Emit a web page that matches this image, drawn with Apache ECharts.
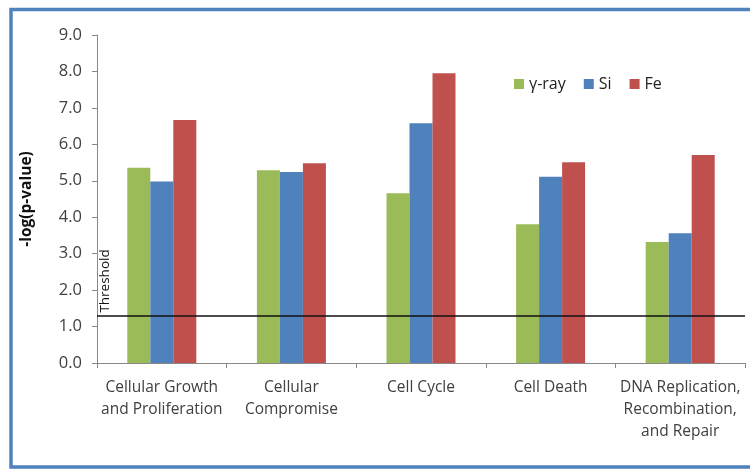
<!DOCTYPE html>
<html>
<head>
<meta charset="utf-8">
<script src="https://cdn.jsdelivr.net/npm/echarts@6/dist/echarts.min.js"></script>
<style>
  html, body { margin: 0; padding: 0; background: #fff; }
  #chart { width: 750px; height: 469px; }
</style>
</head>
<body>
<div id="chart"></div>
<script>
// data
const categories = ['Cellular Growth\nand Proliferation', 'Cellular\nCompromise', 'Cell Cycle', 'Cell Death', 'DNA Replication,\nRecombination,\nand Repair']
const gammaRay = [5.36, 5.29, 4.66, 3.81, 3.32]
const silicon = [4.98, 5.24, 6.58, 5.11, 3.56]
const iron = [6.67, 5.48, 7.95, 5.51, 5.71]
const threshold = 1.3

const labelColor = '#404040'
const axisColor = '#888888'
const fontFamily = 'Open Sans'

var chartDom = document.getElementById('chart')
var myChart = echarts.init(chartDom, null, { renderer: 'canvas' })

var option = {
  animation: false,
  textStyle: { fontFamily: fontFamily },
  grid: { left: 97, right: 5, top: 35, bottom: 106 },
  legend: {
    data: ['γ-ray', 'Si', 'Fe'],
    left: 509,
    top: 71,
    itemWidth: 10,
    itemHeight: 10,
    itemGap: 18,
    icon: 'rect',
    textStyle: { fontSize: 16, color: '#222', fontFamily: fontFamily }
  },
  xAxis: {
    type: 'category',
    data: categories,
    axisLine: { lineStyle: { color: axisColor } },
    axisTick: { show: true, length: 5, lineStyle: { color: axisColor } },
    axisLabel: {
      interval: 0,
      fontSize: 15.5,
      lineHeight: 22,
      color: labelColor,
      margin: 14,
      fontFamily: fontFamily
    }
  },
  yAxis: {
    type: 'value',
    min: 0,
    max: 9,
    interval: 1,
    name: '-log(p-value)',
    nameLocation: 'middle',
    nameGap: 62,
    nameRotate: 90,
    nameTextStyle: { fontSize: 15.5, fontWeight: 'bold', color: '#111', fontFamily: fontFamily },
    axisLine: { show: true, lineStyle: { color: axisColor } },
    axisTick: { show: true, length: 5, lineStyle: { color: axisColor } },
    splitLine: { show: false },
    axisLabel: {
      formatter: function (v) { return v.toFixed(1) },
      fontSize: 16.5,
      color: labelColor,
      margin: 15,
      fontFamily: fontFamily
    }
  },
  series: [
    {
      name: 'γ-ray',
      type: 'bar',
      data: gammaRay,
      barWidth: 23,
      barGap: '0%',
      itemStyle: { color: '#9bbb59' },
      markLine: {
        silent: true,
        symbol: 'none',
        label: { show: false },
        lineStyle: { color: '#111', width: 1.6, type: 'solid' },
        data: [{ yAxis: threshold }]
      }
    },
    {
      name: 'Si',
      type: 'bar',
      data: silicon,
      barWidth: 23,
      barGap: '0%',
      itemStyle: { color: '#4f81bd' }
    },
    {
      name: 'Fe',
      type: 'bar',
      data: iron,
      barWidth: 23,
      barGap: '0%',
      itemStyle: { color: '#c0504d' }
    }
  ]
}

option && myChart.setOption(option)

// frame (open on the right, as in the reference) and rotated threshold label
var thY = myChart.convertToPixel({ yAxisIndex: 0 }, threshold)
myChart.setOption({
  graphic: [
    {
      type: 'polyline',
      shape: { points: [[830, 9.5], [11, 9.5], [11, 467], [830, 467]] },
      style: { fill: 'none', stroke: '#4f81bd', lineWidth: 3.5 },
      silent: true
    },
    {
      type: 'text',
      x: 98,
      y: thY - 3,
      rotation: Math.PI / 2,
      style: {
        text: 'Threshold',
        fontSize: 13.5,
        fontFamily: fontFamily,
        fill: '#111',
        align: 'left',
        verticalAlign: 'top'
      }
    }
  ]
})
</script>
</body>
</html>
